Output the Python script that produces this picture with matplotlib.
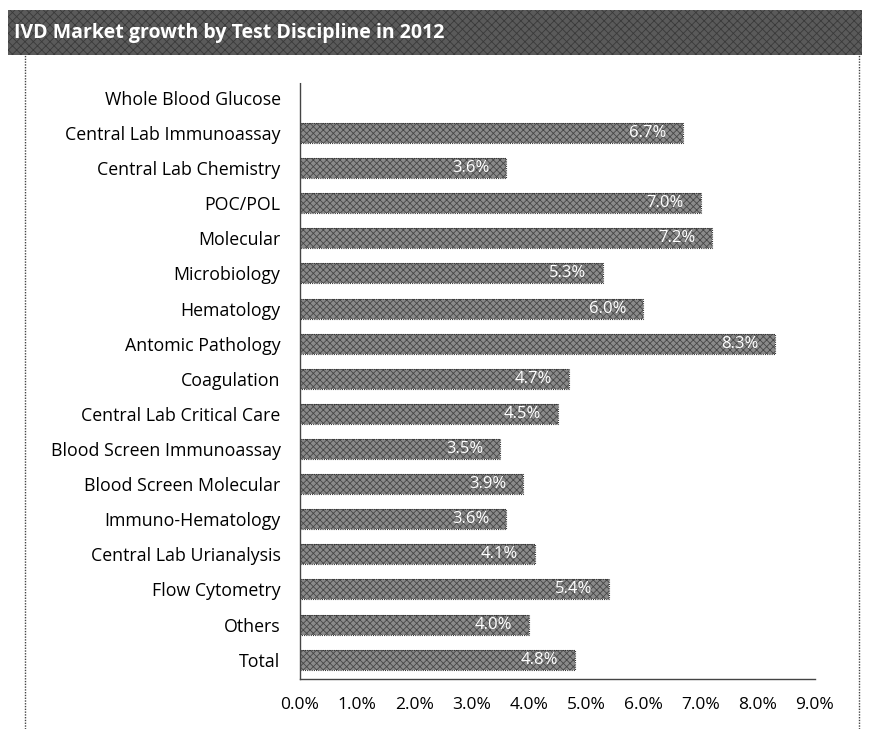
import matplotlib
matplotlib.use("Agg")
import matplotlib.pyplot as plt
from matplotlib.patches import Rectangle
from matplotlib.ticker import FuncFormatter, MultipleLocator

TITLE = "IVD Market growth by Test Discipline in 2012"

categories = [
    "Whole Blood Glucose",
    "Central Lab Immunoassay",
    "Central Lab Chemistry",
    "POC/POL",
    "Molecular",
    "Microbiology",
    "Hematology",
    "Antomic Pathology",
    "Coagulation",
    "Central Lab Critical Care",
    "Blood Screen Immunoassay",
    "Blood Screen Molecular",
    "Immuno-Hematology",
    "Central Lab Urianalysis",
    "Flow Cytometry",
    "Others",
    "Total",
]
growth = [0.0, 6.7, 3.6, 7.0, 7.2, 5.3, 6.0, 8.3, 4.7, 4.5, 3.5, 3.9, 3.6, 4.1, 5.4, 4.0, 4.8]

plt.rcParams["font.family"] = ["Open Sans", "DejaVu Sans"]
plt.rcParams["hatch.linewidth"] = 0.6

fig = plt.figure(figsize=(8.7, 7.29), dpi=100)

# title banner
fig.patches.append(Rectangle((8 / 870, 1 - 55 / 729), 854 / 870, 45 / 729,
                             transform=fig.transFigure, facecolor="#5a5a5a",
                             hatch="xxxx", edgecolor="#3a3a3a", linewidth=0))
fig.text(14 / 870, 1 - 33 / 729, TITLE, color="white", fontsize=14,
         fontweight="bold", va="center", ha="left")

# dotted side frame
for xf in (25 / 870, 859 / 870):
    fig.add_artist(plt.Line2D([xf, xf], [0, 1 - 55 / 729], transform=fig.transFigure,
                              color="#444444", linestyle=(0, (1, 1)), linewidth=1))

ax = fig.add_axes([300 / 870, 1 - 679 / 729, 515 / 870, 597 / 729])

y = list(range(len(categories)))
bars = ax.barh(y, growth, height=0.57, color="#8a8a8a", hatch="xxxxx",
               edgecolor="#474747", linewidth=0)
for b in bars:
    if b.get_width() > 0:
        ax.add_patch(Rectangle(b.get_xy(), b.get_width(), b.get_height(), fill=False,
                               edgecolor="#333333", linestyle=(0, (1, 1)), linewidth=0.8))
        ax.annotate(f"{b.get_width():.1f}%", (b.get_width(), b.get_y() + b.get_height() / 2),
                    xytext=(-12, 0), textcoords="offset points", ha="right", va="center",
                    color="white", fontsize=12)

ax.set_ylim(len(categories) - 0.45, -0.45)
ax.set_xlim(0, 9)
ax.set_yticks(y)
ax.set_yticklabels(categories, fontsize=12.8)
ax.xaxis.set_major_locator(MultipleLocator(1))
ax.xaxis.set_major_formatter(FuncFormatter(lambda v, _: f"{v:.1f}%"))
ax.tick_params(axis="x", labelsize=12.5, length=0, pad=13)
ax.tick_params(axis="y", length=0, pad=14)

for side in ("top", "right"):
    ax.spines[side].set_visible(False)
for side in ("left", "bottom"):
    ax.spines[side].set_linestyle((0, (1, 1)))
    ax.spines[side].set_color("#444444")
    ax.spines[side].set_linewidth(1)

fig.savefig("out.png", dpi=100)
